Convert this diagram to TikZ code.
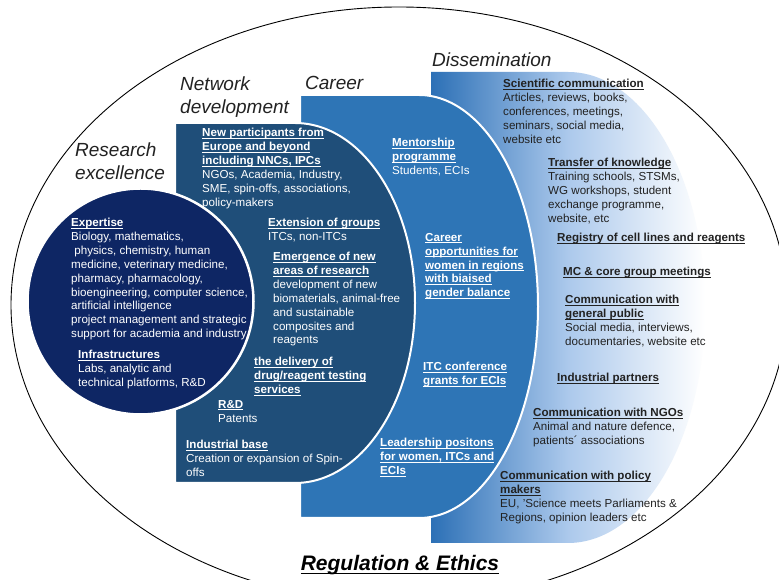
\documentclass[tikz,border=0pt]{standalone}
\usepackage{fontspec}
\setmainfont{Liberation Sans}
\definecolor{navy}{RGB}{14,38,100}
\definecolor{netblue}{RGB}{31,78,121}
\definecolor{carblue}{RGB}{46,117,182}
\definecolor{disblue}{RGB}{44,112,182}
\definecolor{dismid}{RGB}{172,201,236}
\definecolor{darktext}{RGB}{34,34,34}
% underlined text: a rule drawn under the box of the text
\newsavebox\ulsave
\newcommand\ulined[1]{\sbox\ulsave{#1}\rlap{\rule[-0.17em]{\wd\ulsave}{0.07em}}\usebox\ulsave}
\newcommand\hd[1]{\ulined{\bfseries #1}}
\tikzset{
  area/.style={draw=white, line width=2pt},
  txt/.style={anchor=north west, inner sep=0pt, align=left,
    font=\fontsize{11.6}{13.9}\selectfont, text=white},
  dtxt/.style={txt, text=darktext},
  ttl/.style={anchor=north west, inner sep=0pt, align=left,
    font=\fontsize{19}{23}\selectfont\itshape, text=darktext}
}
\begin{document}
\begin{tikzpicture}[x=1pt,y=1pt]
\useasboundingbox (0,0) rectangle (779,580);
\fill[white] (0,0) rectangle (779,580);
% outer frame
\begin{scope}
  \clip (0,0) rectangle (779,580);
  \draw[black, line width=0.9pt] (399,275) ellipse[x radius=388, y radius=298];
\end{scope}
% dissemination band
\shade[left color=disblue, right color=white, middle color=dismid]
  (431,508) -- (568,508) arc[start angle=90, end angle=-90, x radius=137, y radius=235.5]
  -- (431,37) -- cycle;
% career band
\filldraw[area, fill=carblue]
  (300,485) -- (419,485) arc[start angle=90, end angle=-90, x radius=119, y radius=211.5]
  -- (300,62) -- cycle;
% network development band
\filldraw[area, fill=netblue]
  (175,457) -- (295,457) arc[start angle=90, end angle=-90, x radius=120, y radius=180]
  -- (175,97) -- cycle;
% research excellence disc
\filldraw[draw=white, line width=2.5pt, fill=navy] (140.5,278.5) circle[radius=113];

% section titles
\node[ttl] (tRes) at (75,437) {Research\\excellence};
\node[ttl] (tNet) at (180,503) {Network\\development};
\node[ttl] (tCar) at (305,504) {Career};
\node[ttl] (tDis) at (432,527) {Dissemination};

% research excellence
\node[txt] (cExp) at (71,362) {\hd{Expertise}\\Biology, mathematics,\\\ physics, chemistry, human\\medicine, veterinary medicine,\\pharmacy, pharmacology,\\bioengineering, computer science,\\artificial intelligence\\project management and strategic\\support for academia and industry};
\node[txt] (cInf) at (78,230) {\hd{Infrastructures}\\Labs, analytic and\\technical platforms, R\&D};

% network development
\node[txt] (nNew) at (202,452) {\hd{New participants from}\\\hd{Europe and beyond}\\\hd{including NNCs, IPCs}\\NGOs, Academia, Industry,\\SME, spin-offs, associations,\\policy-makers};
\node[txt] (nExt) at (268,362) {\hd{Extension of groups}\\ITCs, non-ITCs};
\node[txt] (nEme) at (273,328) {\hd{Emergence of new}\\\hd{areas of research}\\development of new\\biomaterials, animal-free\\and sustainable\\composites and\\reagents};
\node[txt] (nDel) at (254,223) {\hd{the delivery of}\\\hd{drug/reagent testing}\\\hd{services}};
\node[txt] (nRD) at (218,180) {\hd{R\&D}\\Patents};
\node[txt] (nInd) at (186,140) {\hd{Industrial base}\\Creation or expansion of Spin-\\offs};

% career
\node[txt] (kMen) at (392,442) {\hd{Mentorship}\\\hd{programme}\\Students, ECIs};
\node[txt] (kOpp) at (425,347) {\hd{Career}\\\hd{opportunities for}\\\hd{women in regions}\\\hd{with biaised}\\\hd{gender balance}};
\node[txt] (kITC) at (423,218) {\hd{ITC conference}\\\hd{grants for ECIs}};
\node[txt] (kLea) at (380,142) {\hd{Leadership positons}\\\hd{for women, ITCs and}\\\hd{ECIs}};

% dissemination
\node[dtxt] (dSci) at (503,501) {\hd{Scientific communication}\\Articles, reviews, books,\\conferences, meetings,\\seminars, social media,\\website etc};
\node[dtxt] (dTra) at (548,422) {\hd{Transfer of knowledge}\\Training schools, STSMs,\\WG workshops, student\\exchange programme,\\website, etc};
\node[dtxt] (dReg) at (557,347) {\hd{Registry of cell lines and reagents}};
\node[dtxt] (dMC) at (563,313) {\hd{MC \& core group meetings}};
\node[dtxt] (dPub) at (565,285) {\hd{Communication with}\\\hd{general public}\\Social media, interviews,\\documentaries, website etc};
\node[dtxt] (dInd) at (557,207) {\hd{Industrial partners}};
\node[dtxt] (dNGO) at (533,172) {\hd{Communication with NGOs}\\Animal and nature defence,\\patients´ associations};
\node[dtxt] (dPol) at (500,109) {\hd{Communication with policy}\\\hd{makers}\\EU, 'Science meets Parliaments \&\\Regions, opinion leaders etc};

% bottom label
\node[anchor=north, inner sep=0pt, text=black, font=\fontsize{21}{25}\selectfont\bfseries\itshape] (reg) at (400,25) {\ulined{Regulation \& Ethics}};
\end{tikzpicture}
\end{document}
